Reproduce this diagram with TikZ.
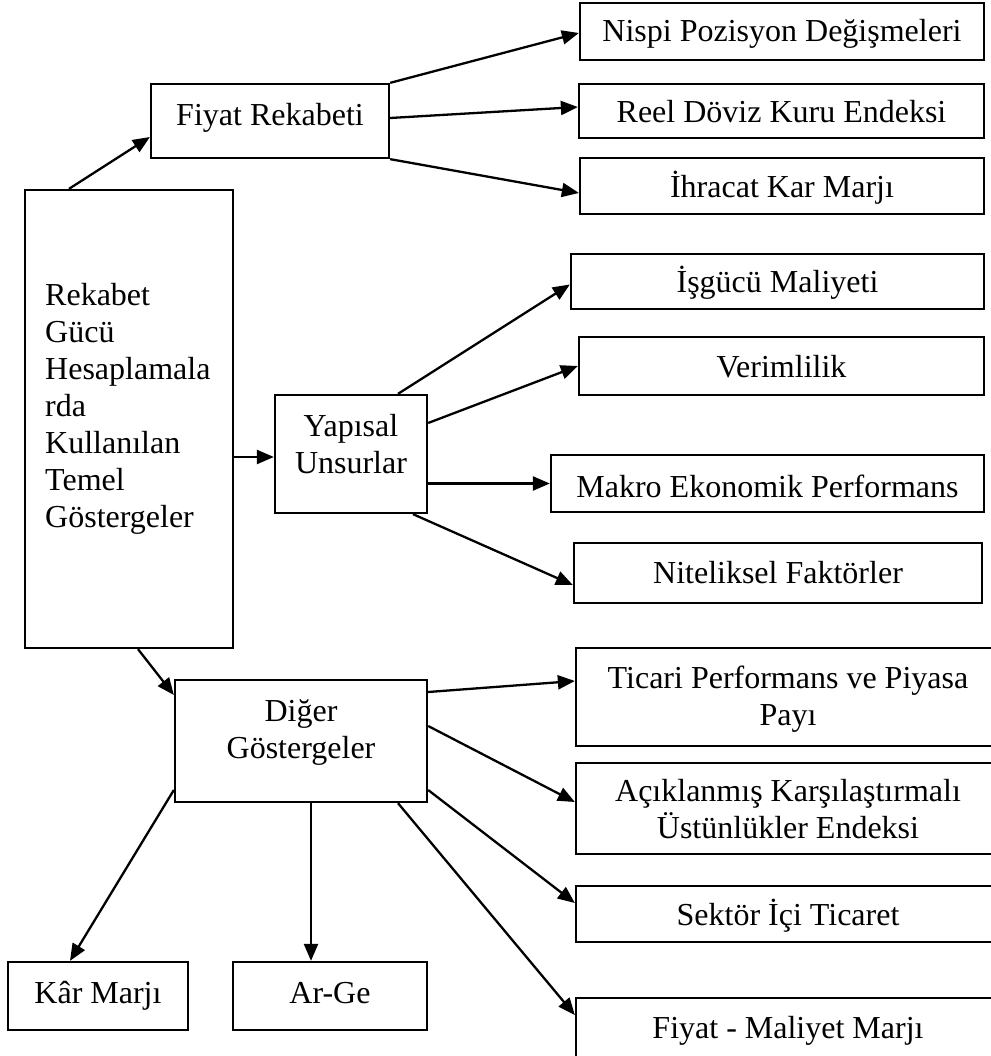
\documentclass[tikz,border=0pt]{standalone}
\usepackage{fontspec}
\setmainfont{Liberation Serif}
\usetikzlibrary{arrows.meta}
\begin{document}
\begin{tikzpicture}[x=1pt,y=-1pt,
  box/.style={draw=black, line width=2.3pt, rectangle, inner sep=0pt},
  txt/.style={inner sep=0pt, font=\fontsize{32}{37}\selectfont, anchor=base, align=center},
  conn/.style={line width=2.3pt, -{Triangle[length=17pt,width=14pt]}}]
\fill[white] (0,0) rectangle (990,1056);
\useasboundingbox (0,0) rectangle (990,1056);
% boxes
\node[box, minimum width=208pt, minimum height=458pt] (main) at (129,419) {};
\node[box, minimum width=238pt, minimum height=74pt] (fiyat) at (270,121) {};
\node[box, minimum width=404pt, minimum height=57pt] (nispi) at (782,31.5) {};
\node[box, minimum width=405pt, minimum height=54pt] (reel) at (781.5,111) {};
\node[box, minimum width=404pt, minimum height=56pt] (ihracat) at (782,186) {};
\node[box, minimum width=413pt, minimum height=55pt] (isgucu) at (777.5,281.5) {};
\node[box, minimum width=405pt, minimum height=58pt] (verim) at (781.5,366) {};
\node[box, minimum width=433pt, minimum height=57pt] (makro) at (767.5,483.5) {};
\node[box, minimum width=408pt, minimum height=60pt] (nitel) at (778,573) {};
\node[box, minimum width=152pt, minimum height=118pt] (yapisal) at (351,454) {};
\node[box, minimum width=252pt, minimum height=122pt] (diger) at (301,741) {};
\node[box, minimum width=424pt, minimum height=98pt] (ticari) at (788,697) {};
\node[box, minimum width=424pt, minimum height=91pt] (acik) at (788,808.5) {};
\node[box, minimum width=424pt, minimum height=56pt] (sektor) at (788,914) {};
\node[box, minimum width=424pt, minimum height=64pt] (fm) at (788,1030) {};
\node[box, minimum width=180pt, minimum height=68pt] (kar) at (98,996) {};
\node[box, minimum width=194pt, minimum height=68pt] (arge) at (330,996) {};
% texts (multi-line: position is the baseline of the last line)
\node[txt, anchor=base west, align=left] (tmain) at (45,527) {Rekabet\\Gücü\\Hesaplamala\\rda\\Kullanılan\\Temel\\Göstergeler};
\node[txt] (tfiyat) at (270,126) {Fiyat Rekabeti};
\node[txt] (tnispi) at (782,42) {Nispi Pozisyon Değişmeleri};
\node[txt] (treel) at (781.5,123) {Reel Döviz Kuru Endeksi};
\node[txt] (tihracat) at (782,198) {İhracat Kar Marjı};
\node[txt] (tisgucu) at (777.5,293) {İşgücü Maliyeti};
\node[txt] (tverim) at (781.5,377) {Verimlilik};
\node[txt] (tmakro) at (767.5,497) {Makro Ekonomik Performans};
\node[txt] (tnitel) at (778,583) {Niteliksel Faktörler};
\node[txt] (tyapisal) at (351,473) {Yapısal\\Unsurlar};
\node[txt] (tdiger) at (301,758) {Diğer\\Göstergeler};
\node[txt] (tticari) at (788,725) {Ticari Performans ve Piyasa\\Payı};
\node[txt] (tacik) at (788,838) {Açıklanmış Karşılaştırmalı\\Üstünlükler Endeksi};
\node[txt] (tsektor) at (788,925) {Sektör İçi Ticaret};
\node[txt] (tfm) at (788,1038) {Fiyat - Maliyet Marjı};
\node[txt] (tkar) at (98,1003) {Kâr Marjı};
\node[txt] (targe) at (330,1003) {Ar-Ge};
% connectors
\draw[conn] ([xshift=-60pt]main.north) -- ([yshift=-16pt]fiyat.west);
\draw[conn] (fiyat.north east) -- ([yshift=-1.5pt]nispi.west);
\draw[conn] ([yshift=3pt]fiyat.east) -- ([yshift=4pt]reel.west);
\draw[conn] (fiyat.south east) -- ([yshift=-7pt]ihracat.west);
\draw[conn] ([yshift=-38pt]main.east) -- ([yshift=-3pt]yapisal.west);
\draw[conn] ([xshift=47pt]yapisal.north) -- ([yshift=-3pt]isgucu.west);
\draw[conn] ([yshift=31pt]yapisal.east) -- (verim.west);
\draw[conn] (yapisal.east |- makro.west) -- (makro.west);
\draw[conn] ([xshift=62pt]yapisal.south) -- ([yshift=-12pt]nitel.west);
\draw[conn] ([xshift=9pt]main.south) -- ([yshift=46pt]diger.west);
\draw[conn] ([yshift=49pt]diger.east) -- ([yshift=16pt]ticari.west);
\draw[conn] ([yshift=15pt]diger.east) -- ([yshift=6.5pt]acik.west);
\draw[conn] ([yshift=-49pt]diger.east) -- ([yshift=11pt]sektor.west);
\draw[conn] ([xshift=97pt]diger.south) -- ([yshift=15pt]fm.west);
\draw[conn] ([yshift=-49pt]diger.west) -- ([xshift=-28pt]kar.north);
\draw[conn] ([xshift=10pt]diger.south) -- ([xshift=10pt]diger.south |- arge.north);
\end{tikzpicture}
\end{document}
